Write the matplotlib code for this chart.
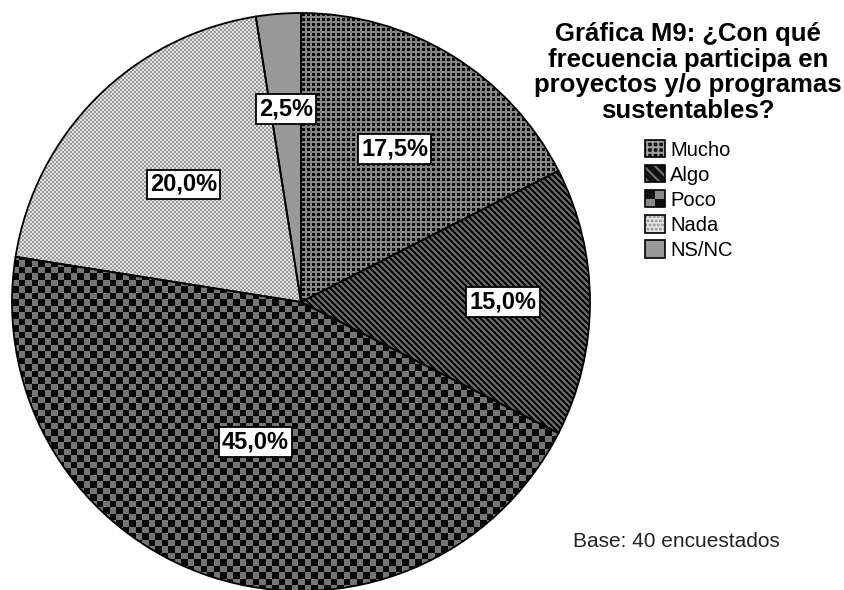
import numpy as np
import matplotlib
matplotlib.use('Agg')
import matplotlib.pyplot as plt
from matplotlib.patches import Rectangle, Patch
from matplotlib.legend_handler import HandlerBase

plt.rcParams['font.family'] = ['Liberation Sans', 'DejaVu Sans']
plt.rcParams['hatch.linewidth'] = 1.4

# ---- data ----
categories = ['Mucho', 'Algo', 'Poco', 'Nada', 'NS/NC']
percentages = [17.5, 15.0, 45.0, 20.0, 2.5]
title_text = 'Gráfica M9: ¿Con qué\nfrecuencia participa en\nproyectos y/o programas\nsustentables?'
base_text = 'Base: 40 encuestados'

# ---- layout ----
W, H, DPI = 845, 590, 100
fig = plt.figure(figsize=(W / DPI, H / DPI), dpi=DPI)
fig.patch.set_facecolor('white')

cx, cy, R = 301, 302, 289
ax = fig.add_axes([(cx - R) / W, (H - cy - R) / H, 2 * R / W, 2 * R / H])
ax.set_axis_off()

wedges, _ = ax.pie(percentages, startangle=90, counterclock=False, radius=1,
                   colors=['none'] * len(percentages),
                   wedgeprops=dict(edgecolor='black', linewidth=1.3))
for w in wedges:
    w.set_zorder(3)
    w.set_clip_on(False)

# textures (pixel patterns) for each slice
n = 2 * R
yy, xx = np.mgrid[0:n, 0:n]


def tex_mucho():
    g = ((xx % 5) >= 3) | ((yy % 5) >= 3)
    return np.where(g, 0.52, 0.03)


def tex_algo():
    return np.where(((xx - yy) % 6) < 3, 0.04, 0.40)


def tex_poco():
    c = (np.floor(xx / 6.5) + np.floor(yy / 6.5)) % 2
    return np.where(c == 0, 0.03, 0.46)


def tex_nada():
    c = ((xx // 2) + (yy // 2)) % 2
    return np.where(c == 0, 0.60, 0.88)


def tex_nsnc():
    return np.full((n, n), 0.60)


textures = [tex_mucho, tex_algo, tex_poco, tex_nada, tex_nsnc]
for w, tf in zip(wedges, textures):
    im = ax.imshow(tf(), cmap='gray', vmin=0, vmax=1, extent=(-1, 1, -1, 1),
                   interpolation='nearest', origin='upper', zorder=1)
    im.set_clip_path(w)

ax.set_xlim(-1, 1)
ax.set_ylim(-1, 1)

# percentage labels
label_r = [0.62, 0.70, 0.51, 0.575, 0.67]
total = sum(percentages)
cum = np.concatenate([[0], np.cumsum(percentages)[:-1]])
for v, c0, r in zip(percentages, cum, label_r):
    ang = np.deg2rad(90 - 360 * (c0 + v / 2) / total)
    lab = f'{v:.1f}%'.replace('.', ',')
    ax.text(r * np.cos(ang), r * np.sin(ang), lab, ha='center', va='center',
            fontsize=17, fontweight='bold', zorder=5,
            bbox=dict(boxstyle='square,pad=0.14', fc='white', ec='black', lw=1.3))

# title
fig.text(688 / W, 1 - 22 / H, title_text, ha='center', va='top',
         multialignment='center', fontsize=18.5, fontweight='bold', linespacing=1.08)


# legend
class TexHandler(HandlerBase):
    def create_artists(self, legend, orig, xd, yd, width, height, fontsize, trans):
        x0, y0 = -xd, -yd
        arts = []
        if orig.get_gid() == 'checker':
            for i in range(2):
                for j in range(2):
                    col = '#111111' if (i + j) % 2 == 1 else '#8a8a8a'
                    arts.append(Rectangle((x0 + i * width / 2, y0 + j * height / 2),
                                          width / 2, height / 2, fc=col, lw=0,
                                          transform=trans))
        else:
            arts.append(Rectangle((x0, y0), width, height,
                                  facecolor=orig.get_facecolor(),
                                  edgecolor=orig.get_edgecolor(),
                                  hatch=orig.get_hatch(), lw=0, transform=trans))
        arts.append(Rectangle((x0, y0), width, height, fill=False, ec='black',
                              lw=1.2, transform=trans))
        return arts


handles = [
    Patch(facecolor='#111111', edgecolor='#a0a0a0', hatch='+++'),
    Patch(facecolor='#111111', edgecolor='#777777', hatch='\\\\\\'),
    Patch(gid='checker'),
    Patch(facecolor='#e6e6e6', edgecolor='#8a8a8a', hatch='....'),
    Patch(facecolor='#999999', edgecolor='#999999'),
]
fig.legend(handles, categories, loc='upper left',
           bbox_to_anchor=(645 / W, 1 - 140 / H), frameon=False,
           borderpad=0, borderaxespad=0, handlelength=1.0, handleheight=0.95,
           handletextpad=0.25, labelspacing=0.27, fontsize=14.5,
           handler_map={Patch: TexHandler()})

# base note
fig.text(573 / W, 1 - 547 / H, base_text, ha='left', va='baseline',
         fontsize=15, color='#222222')

fig.savefig('out.png', dpi=DPI, facecolor='white')
